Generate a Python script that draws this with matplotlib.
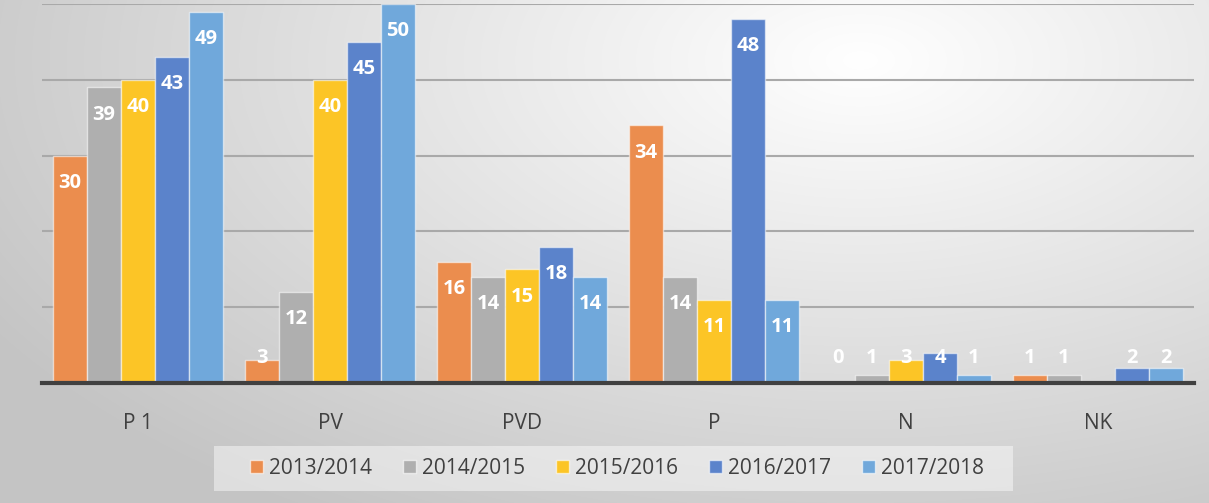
import numpy as np
import matplotlib
matplotlib.use("Agg")
import matplotlib.pyplot as plt
from matplotlib.patches import Patch, Rectangle

# data
categories = ["P 1", "PV", "PVD", "P", "N", "NK"]
seasons = ["2013/2014", "2014/2015", "2015/2016", "2016/2017", "2017/2018"]
v_2013 = [30, 3, 16, 34, 0, 1]
v_2014 = [39, 12, 14, 14, 1, 1]
v_2015 = [40, 40, 15, 11, 3, 0]
v_2016 = [43, 45, 18, 48, 4, 2]
v_2017 = [49, 50, 14, 11, 1, 2]
series = [v_2013, v_2014, v_2015, v_2016, v_2017]

colors = ["#EB8D4E", "#AFAFAF", "#FCC526", "#5B83CB", "#70A8DB"]

plt.rcParams["font.family"] = ["Open Sans", "DejaVu Sans"]

W, H = 1209, 503
fig = plt.figure(figsize=(W / 100, H / 100), dpi=100)

# soft radial background, light near top right, grey towards the corners
bg = fig.add_axes([0, 0, 1, 1], zorder=-10)
yy, xx = np.mgrid[0:H, 0:W]
d = np.sqrt(((xx - 860) / 880.0) ** 2 + ((yy - 60) / 470.0) ** 2)
shade = np.clip(1.0 - 0.2 * d, 0.77, 1.0)
rgb = np.dstack([shade, shade, shade])
bg.imshow(rgb, aspect="auto", extent=[0, 1, 0, 1], origin="upper",
          interpolation="bilinear")
bg.axis("off")

ax = fig.add_axes([42 / W, 1 - 383 / H, (1194 - 42) / W, (383 - 4) / H])
ax.patch.set_alpha(0)

x = np.arange(len(categories))
bw = 0.177
for i, (vals, c) in enumerate(zip(series, colors)):
    xs = x + (i - 2) * bw
    ax.bar(xs, vals, width=bw, color=c, edgecolor=(1, 1, 1, 0.55),
           linewidth=1, zorder=3)
    for xi, v in zip(xs, vals):
        if v == 0 and i == 2:
            continue  # no label on the empty NK bar
        ly = max(v - 3.6, 3.3)
        ax.text(xi, ly, str(v), ha="center", va="center", color="white",
                fontsize=14.5, fontweight="bold", zorder=4)

ax.set_xlim(-0.5, len(categories) - 0.5)
ax.set_ylim(0, 50)
ax.set_yticks([10, 20, 30, 40, 50])
ax.yaxis.grid(True, color="#a9a9a9", linewidth=1.5, zorder=0)
ax.set_axisbelow(True)
ax.tick_params(left=False, labelleft=False, bottom=False)
ax.set_xticks(x)
ax.set_xticklabels(categories, fontsize=15, color="#404040")
ax.tick_params(axis="x", pad=18)
for s in ["top", "right", "left"]:
    ax.spines[s].set_visible(False)
ax.spines["bottom"].set_color("#404040")
ax.spines["bottom"].set_linewidth(3)
ax.spines["bottom"].set_zorder(5)

# legend box drawn separately so it can be wider than the entries
fig.patches.append(Rectangle((214 / W, 1 - 491 / H), (1013 - 214) / W, 45 / H,
                             transform=fig.transFigure, facecolor=(1, 1, 1, 0.45),
                             edgecolor="none", zorder=1))

handles = [Patch(facecolor=c, edgecolor=(1, 1, 1, 0.6), linewidth=1) for c in colors]
leg = fig.legend(handles, seasons, loc="center",
                 bbox_to_anchor=(617 / W, 1 - 468.5 / H), ncol=5,
                 fontsize=15, frameon=False, handlelength=0.6, handleheight=0.6,
                 handletextpad=0.3, columnspacing=1.5, labelcolor="#404040")

fig.savefig("out.png", dpi=100)
